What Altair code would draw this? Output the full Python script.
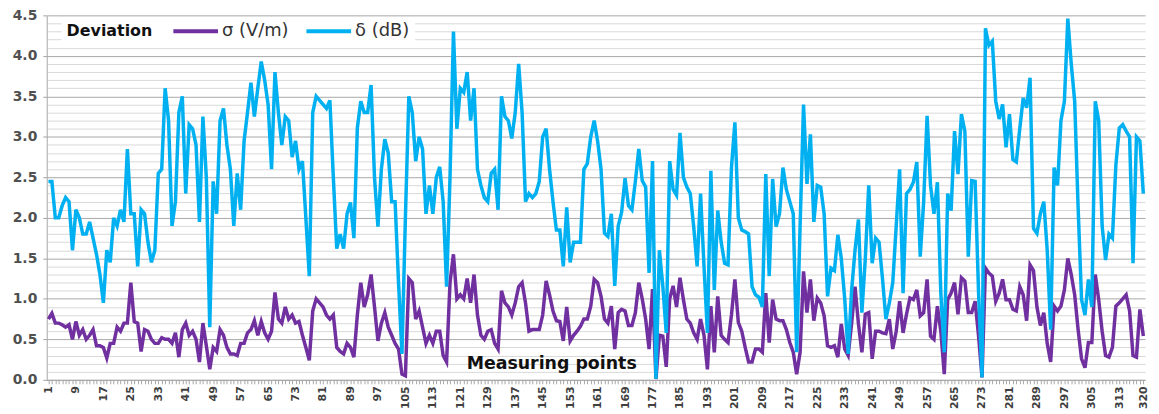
import altair as alt
import pandas as pd

# Measuring point index (1..320)
points = list(range(1, 321))

# Standard deviation of field strength, sigma (V/m)
sigma = [
    0.75, 0.82, 0.7, 0.7, 0.68, 0.65, 0.68, 0.5, 0.72, 0.55,
    0.62, 0.5, 0.55, 0.62, 0.42, 0.42, 0.4, 0.27, 0.45, 0.45,
    0.65, 0.6, 0.7, 0.7, 1.2, 0.72, 0.7, 0.35, 0.62, 0.6,
    0.5, 0.45, 0.45, 0.52, 0.5, 0.5, 0.45, 0.58, 0.28, 0.62,
    0.7, 0.55, 0.6, 0.5, 0.22, 0.7, 0.42, 0.13, 0.4, 0.35,
    0.62, 0.55, 0.4, 0.32, 0.32, 0.3, 0.45, 0.45, 0.58, 0.62,
    0.73, 0.55, 0.72, 0.58, 0.5, 0.6, 1.08, 0.75, 0.7, 0.9,
    0.75, 0.8, 0.7, 0.72, 0.55, 0.4, 0.24, 0.85, 1.0, 0.95,
    0.9, 0.8, 0.75, 0.8, 0.4, 0.35, 0.32, 0.45, 0.4, 0.28,
    0.8, 1.2, 0.9, 1.05, 1.3, 0.9, 0.48, 0.7, 0.83, 0.65,
    0.55, 0.45, 0.38, 0.07, 0.05, 1.25, 1.2, 0.75, 0.85, 0.65,
    0.45, 0.55, 0.45, 0.6, 0.6, 0.3, 0.22, 1.2, 1.55, 1.0,
    1.05, 1.0, 1.25, 0.95, 1.3, 0.8, 0.55, 0.5, 0.6, 0.62,
    0.45, 0.38, 1.1, 0.95, 0.9, 0.8, 0.95, 1.15, 1.2, 0.95,
    0.6, 0.62, 0.62, 0.62, 0.8, 1.22, 1.05, 0.85, 0.73, 0.72,
    0.48, 0.9, 0.48, 0.55, 0.6, 0.66, 0.75, 0.75, 0.91, 1.24,
    1.2, 1.03, 0.75, 0.7, 0.91, 0.38, 0.83, 0.87, 0.85, 0.67,
    0.67, 0.83, 1.2, 1.0, 0.75, 0.38, 1.12, 0.01, 0.55, 0.54,
    0.16, 1.0, 1.16, 0.9, 1.26, 0.99, 0.75, 0.7, 0.58, 0.5,
    0.75, 0.55, 0.13, 0.91, 0.34, 1.03, 0.55, 0.5, 0.46, 0.8,
    1.24, 0.71, 0.6, 0.4, 0.22, 0.22, 0.38, 0.38, 0.34, 1.07,
    0.46, 0.99, 0.75, 0.73, 0.73, 0.62, 0.46, 0.34, 0.07, 0.34,
    1.34, 0.83, 1.24, 0.73, 1.01, 0.95, 0.79, 0.42, 0.4, 0.42,
    0.28, 0.69, 0.38, 0.3, 0.69, 1.15, 0.69, 0.34, 0.81, 0.83,
    0.26, 0.6, 0.6, 0.58, 0.57, 0.75, 0.38, 0.6, 0.97, 0.58,
    0.81, 1.01, 0.99, 1.11, 0.79, 0.83, 1.24, 0.54, 0.5, 0.91,
    0.6, 0.07, 0.99, 1.07, 1.2, 0.81, 1.26, 1.22, 0.83, 0.83,
    0.97, 0.54, 0.03, 1.38, 1.32, 1.28, 0.97, 1.07, 1.24, 0.99,
    0.99, 0.87, 0.85, 1.15, 1.05, 0.73, 1.42, 1.35, 0.9, 0.67,
    0.83, 0.45, 0.22, 0.91, 0.85, 0.91, 1.11, 1.5, 1.3, 1.05,
    0.62, 0.26, 0.15, 0.46, 0.46, 1.3, 0.99, 0.6, 0.3, 0.28,
    0.4, 0.91, 0.95, 1.0, 1.05, 0.85, 0.3, 0.28, 0.87, 0.54,
]

# Deviation in dB, delta (dB)
delta = [
    2.45, 2.45, 2.0, 2.0, 2.15, 2.25, 2.2, 1.6, 2.1, 2.0,
    1.8, 1.8, 1.95, 1.75, 1.55, 1.3, 0.95, 1.6, 1.45, 2.0,
    1.9, 2.1, 1.95, 2.85, 2.05, 2.05, 1.4, 2.1, 2.05, 1.7,
    1.45, 1.6, 2.55, 2.6, 3.6, 3.2, 1.9, 2.2, 3.3, 3.5,
    2.3, 3.15, 3.1, 2.9, 1.95, 3.25, 2.5, 0.65, 2.45, 2.05,
    3.2, 3.35, 2.9, 2.6, 1.9, 2.55, 2.1, 2.95, 3.3, 3.67,
    3.25, 3.6, 3.93, 3.7, 3.4, 2.6, 3.8, 3.3, 2.9, 3.25,
    3.2, 2.75, 2.95, 2.6, 2.7, 2.0, 1.28, 3.3, 3.5, 3.45,
    3.4, 3.35, 3.45, 2.5, 1.62, 1.8, 1.62, 2.05, 2.19, 1.75,
    3.11, 3.44, 3.3, 3.3, 3.64, 2.5, 1.89, 2.6, 2.97, 2.8,
    2.2, 2.2, 1.2, 0.32, 2.0, 3.5, 3.3, 2.7, 3.0, 2.85,
    2.05, 2.4, 2.05, 2.5, 2.63, 2.2, 1.15, 2.5, 4.3, 3.1,
    3.6, 3.55, 3.8, 3.2, 3.6, 2.6, 2.4, 2.25, 2.2, 2.55,
    2.6, 2.1, 3.5, 3.25, 3.2, 2.98, 3.3, 3.9, 3.3, 2.2,
    2.3, 2.25, 2.3, 2.45, 3.0, 3.1, 2.6, 2.2, 1.85, 1.85,
    1.4, 2.13, 1.45, 1.7, 1.7, 1.7, 2.6, 2.67, 3.0, 3.2,
    2.95, 2.6, 1.81, 1.77, 2.05, 1.16, 1.9, 2.07, 2.49, 2.15,
    2.1, 2.45, 2.85, 2.46, 2.38, 1.32, 2.7, 0.01, 1.6, 1.16,
    0.58, 2.7, 2.35, 2.28, 3.05, 2.5, 2.38, 2.3, 1.89, 1.4,
    2.3, 1.4, 0.58, 2.58, 1.11, 2.09, 1.7, 1.44, 1.42, 2.62,
    3.18, 2.0, 1.85, 1.83, 1.8, 1.15, 1.05, 1.02, 0.9, 2.54,
    1.28, 2.48, 1.89, 2.05, 2.62, 2.35, 2.2, 2.05, 0.34, 1.9,
    3.4, 2.42, 3.03, 1.95, 2.4, 2.38, 2.05, 1.03, 1.38, 1.35,
    1.79, 1.5, 1.0, 0.32, 1.1, 1.6, 1.98, 0.83, 1.5, 2.4,
    1.44, 1.75, 1.7, 1.25, 0.75, 0.95, 1.2, 1.9, 2.6, 1.07,
    2.3, 2.35, 2.44, 2.69, 1.52, 2.2, 3.26, 2.4, 2.05, 2.44,
    1.07, 0.34, 2.3, 2.09, 3.07, 2.54, 3.28, 3.07, 1.52, 2.46,
    2.45, 1.07, 0.03, 4.34, 4.13, 4.18, 3.44, 3.22, 3.4, 2.87,
    3.28, 2.72, 2.69, 3.1, 3.48, 3.36, 3.73, 1.87, 1.81, 2.05,
    2.2, 1.6, 0.62, 2.62, 2.4, 3.2, 3.44, 4.46, 3.9, 3.44,
    2.13, 0.99, 0.8, 1.24, 0.9, 3.44, 3.2, 1.9, 1.48, 1.8,
    1.75, 2.65, 3.11, 3.15, 3.07, 3.0, 1.44, 3.0, 2.95, 2.3,
]

series_names = ["σ (V/m)", "δ (dB)"]
series_colors = ["#7030A0", "#00B0F0"]

x_tick_labels = list(range(1, 320, 8)) + [320]
y_ticks = [round(i * 0.1, 1) for i in range(46)]

df = pd.DataFrame({
    "point": points * 2,
    "value": sigma + delta,
    "series": [series_names[0]] * len(sigma) + [series_names[1]] * len(delta),
})

label_list = ",".join(str(v) for v in x_tick_labels)
FONT = "DejaVu Sans"

x_enc = alt.X(
    "point:Q",
    scale=alt.Scale(domain=[0.5, 320.5], nice=False, zero=False),
    axis=alt.Axis(
        values=points,
        labelExpr=f"indexof([{label_list}], datum.value) >= 0 ? datum.label : ''",
        labelAngle=-90,
        labelOverlap=False,
        labelFont=FONT,
        labelFontWeight="bold",
        labelFontSize=11,
        labelColor="#404040",
        labelPadding=2,
        tickSize=4,
        tickColor="#a6a6a6",
        domainColor="#a6a6a6",
        grid=False,
        title="Measuring points",
        titleFont=FONT,
        titleFontSize=17.5,
        titleFontWeight="bold",
        titleColor="#111111",
        titleX=508,
        titleY=-16,
        titleAlign="center",
        titleBaseline="middle",
    ),
)

major_test = "abs(datum.value*2 - round(datum.value*2)) < 0.001"
y_enc = alt.Y(
    "value:Q",
    scale=alt.Scale(domain=[0, 4.5], nice=False),
    axis=alt.Axis(
        values=y_ticks,
        labelExpr=f"{major_test} ? format(datum.value, '.1f') : ''",
        labelFont=FONT,
        labelFontWeight="bold",
        labelFontSize=14,
        labelColor="#505050",
        labelPadding=6,
        tickSize=4,
        tickColor={"condition": {"test": major_test, "value": "#a6a6a6"}, "value": "transparent"},
        gridColor={"condition": {"test": major_test, "value": "#a8a8a8"}, "value": "#d9d9d9"},
        gridWidth=1,
        domainColor="#a6a6a6",
        title="",
    ),
)

color_enc = alt.Color(
    "series:N",
    scale=alt.Scale(domain=series_names, range=series_colors),
    legend=alt.Legend(
        title="Deviation",
        orient="none",
        legendX=15,
        legendY=2,
        direction="horizontal",
        titleOrient="left",
        titleAnchor="middle",
        titleBaseline="middle",
        fillColor="white",
        padding=5,
        symbolType="M-4.5,0H4.5",
        symbolSize=100,
        symbolStrokeWidth=4,
        labelFont=FONT,
        labelFontSize=18,
        labelColor="#333333",
        labelOffset=17.5,
        labelLimit=200,
        titleFont=FONT,
        titleFontSize=16,
        titleFontWeight="bold",
        titleColor="#111111",
        titlePadding=34,
        columnPadding=9,
    ),
)

base = alt.Chart(df).mark_line(strokeWidth=3.5).encode(x=x_enc, y=y_enc, color=color_enc)

purple = base.transform_filter(alt.datum.series == series_names[0])
blue = base.transform_filter(alt.datum.series == series_names[1])

chart = (
    alt.layer(purple, blue)
    .properties(
        width=1106,
        height=367,
        autosize=alt.AutoSizeParams(type="none"),
        padding={"left": 39, "top": 6, "right": 6, "bottom": 33},
        background="white",
    )
    .configure_view(strokeWidth=0)
)

chart.save("out.html", embed_options={"renderer": "svg", "actions": False})
